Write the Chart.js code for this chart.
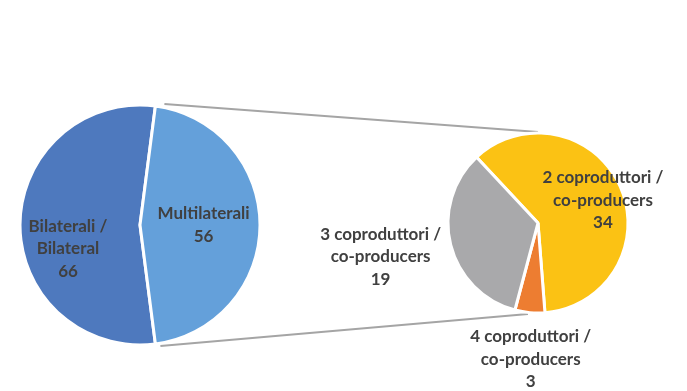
<!DOCTYPE html>
<html>
<head>
<meta charset="utf-8">
<script src="https://cdn.jsdelivr.net/npm/chart.js@4/dist/chart.umd.min.js"></script>
<style>
  html, body { margin: 0; padding: 0; background: #ffffff; }
  #wrap { position: relative; width: 687px; height: 391px; }
  canvas { position: absolute; left: 0; top: 0; }
</style>
</head>
<body>
<div id="wrap">
  <canvas id="main" width="687" height="391"></canvas>
  <canvas id="sub" width="687" height="391"></canvas>
</div>
<script>
// ---- data ----
const mainCategories = ['Bilaterali /\nBilateral', 'Multilaterali'];
const mainValues = [66, 56];
const subCategories = ['2 coproduttori /\nco-producers', '4 coproduttori /\nco-producers', '3 coproduttori /\nco-producers'];
const subValues = [34, 3, 19];

// ---- styles ----
const mainColors = ['#4E79BE', '#64A0DA'];
const subColors = ['#FBC214', '#ED7D31', '#A9A9AB'];
// label placement: [radius factor along slice middle, dx, dy]
const mainLabelPos = [[0.6, 0, 24], [0.53, 0, 0]];
const subLabelPos = [[0.74, 4, 4], [1.5, 5, 2], [1.78, -2, -5]];
const labelFont = 'bold 17px Lato, "Open Sans", sans-serif';
const labelColor = '#404040';
const lineH = 22.5;

const W = 687, H = 391;
function padFor(cx, cy, r, bw) {
  const h = r + bw / 2;
  return { left: cx - h, right: W - (cx + h), top: cy - h, bottom: H - (cy + h) };
}

function labelPlugin(cats, vals, pos) {
  return {
    id: 'sliceLabels',
    afterDatasetsDraw(chart) {
      const ctx = chart.ctx;
      const arcs = chart.getDatasetMeta(0).data;
      ctx.save();
      ctx.font = labelFont;
      ctx.fillStyle = labelColor;
      ctx.textAlign = 'center';
      ctx.textBaseline = 'middle';
      arcs.forEach((arc, i) => {
        const p = arc.getProps(['x', 'y', 'startAngle', 'endAngle', 'outerRadius'], true);
        const mid = (p.startAngle + p.endAngle) / 2;
        const [f, dx, dy] = pos[i];
        const cx = p.x + Math.cos(mid) * p.outerRadius * f + dx;
        const cy = p.y + Math.sin(mid) * p.outerRadius * f + dy;
        const lines = cats[i].split('\n').concat([String(vals[i])]);
        const y0 = cy - (lines.length - 1) * lineH / 2;
        lines.forEach((t, k) => ctx.fillText(t, cx, y0 + k * lineH));
      });
      ctx.restore();
    }
  };
}

const mainTotal = mainValues.reduce((a, b) => a + b, 0);
const otherAngle = mainValues[1] / mainTotal * 360;
const mainRotation = 90 + otherAngle / 2;

const mainChart = new Chart(document.getElementById('main'), {
  type: 'pie',
  data: {
    labels: mainCategories,
    datasets: [{ data: mainValues, backgroundColor: mainColors, borderColor: '#ffffff', borderWidth: 3 }]
  },
  options: {
    responsive: false,
    animation: false,
    devicePixelRatio: 1,
    rotation: mainRotation,
    layout: { padding: padFor(140, 225, 120, 3) },
    plugins: { legend: { display: false }, tooltip: { enabled: false } }
  },
  plugins: [labelPlugin(mainCategories, mainValues, mainLabelPos)]
});

const connectorPlugin = {
  id: 'connectors',
  beforeDatasetsDraw(chart) {
    const other = mainChart.getDatasetMeta(0).data[1].getProps(['x', 'y', 'startAngle', 'endAngle', 'outerRadius'], true);
    const sub = chart.getDatasetMeta(0).data[0].getProps(['x', 'y', 'outerRadius'], true);
    const ctx = chart.ctx;
    ctx.save();
    ctx.strokeStyle = '#A5A5A5';
    ctx.lineWidth = 2;
    ctx.beginPath();
    ctx.moveTo(other.x + Math.cos(other.startAngle) * other.outerRadius + 9, other.y + Math.sin(other.startAngle) * other.outerRadius - 2);
    ctx.lineTo(sub.x, sub.y - sub.outerRadius - 1);
    ctx.moveTo(other.x + Math.cos(other.endAngle) * other.outerRadius + 5, other.y + Math.sin(other.endAngle) * other.outerRadius + 2);
    ctx.lineTo(sub.x - 10, sub.y + sub.outerRadius + 1);
    ctx.stroke();
    ctx.restore();
  }
};

const subChart = new Chart(document.getElementById('sub'), {
  type: 'pie',
  data: {
    labels: subCategories,
    datasets: [{ data: subValues, backgroundColor: subColors, borderColor: '#ffffff', borderWidth: 3 }]
  },
  options: {
    responsive: false,
    animation: false,
    devicePixelRatio: 1,
    rotation: -43,
    layout: { padding: padFor(538, 223, 90, 3) },
    plugins: { legend: { display: false }, tooltip: { enabled: false } }
  },
  plugins: [connectorPlugin, labelPlugin(subCategories, subValues, subLabelPos)]
});
</script>
</body>
</html>
